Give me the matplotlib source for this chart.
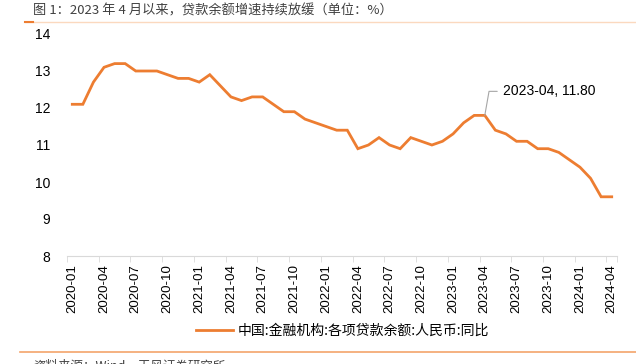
import matplotlib.pyplot as plt
from matplotlib.lines import Line2D

plt.rcParams['font.family'] = ['Liberation Sans', 'Noto Sans CJK SC', 'DejaVu Sans']

# 月份标签（2020-01 ~ 2024-04）
months = [f"{y}-{m:02d}" for y in range(2020, 2025) for m in range(1, 13)][:52]

# 各项贷款余额同比（%）
loan_yoy_2020 = [12.1, 12.1, 12.7, 13.1, 13.2, 13.2, 13.0, 13.0, 13.0, 12.9, 12.8, 12.8]
loan_yoy_2021 = [12.7, 12.9, 12.6, 12.3, 12.2, 12.3, 12.3, 12.1, 11.9, 11.9, 11.7, 11.6]
loan_yoy_2022 = [11.5, 11.4, 11.4, 10.9, 11.0, 11.2, 11.0, 10.9, 11.2, 11.1, 11.0, 11.1]
loan_yoy_2023 = [11.3, 11.6, 11.8, 11.8, 11.4, 11.3, 11.1, 11.1, 10.9, 10.9, 10.8, 10.6]
loan_yoy_2024 = [10.4, 10.1, 9.6, 9.6]
loan_yoy = loan_yoy_2020 + loan_yoy_2021 + loan_yoy_2022 + loan_yoy_2023 + loan_yoy_2024

yticks = [8, 9, 10, 11, 12, 13, 14]
title = "图 1：2023 年 4 月以来，贷款余额增速持续放缓（单位：%）"
legend_label = "中国:金融机构:各项贷款余额:人民币:同比"
source = "资料来源：Wind，天风证券研究所"
orange = "#ED7D31"

fig = plt.figure(figsize=(6.36, 3.64), dpi=100)
W, H = 636, 364
ax = fig.add_axes([67 / W, (H - 256) / H, 550 / W, 222 / H])

x = list(range(len(loan_yoy)))
ax.plot(x, loan_yoy, color=orange, lw=2.0, solid_joinstyle='miter')

ax.set_xlim(-0.5, len(loan_yoy) - 0.5)
ax.set_ylim(8, 14)
ax.set_yticks(yticks)
ax.set_yticklabels([str(v) for v in yticks], fontsize=10, color="#000000")
ax.tick_params(axis='y', length=0, pad=12)

ax.set_xticks(x[::3])
ax.set_xticklabels(months[::3], rotation=90, fontsize=9.5)
ax.set_xticks([v - 0.5 for v in x[::3]] + [len(loan_yoy) - 0.5], minor=True)
ax.tick_params(axis='x', which='major', length=0, pad=6)
ax.tick_params(axis='x', which='minor', length=4, color="#d9d9d9")

for s in ['top', 'right', 'left']:
    ax.spines[s].set_visible(False)
ax.spines['bottom'].set_color("#d9d9d9")

# 标注 2023-04
i = months.index("2023-04")
ax.annotate(f"2023-04, {loan_yoy[i]:.2f}", xy=(i, loan_yoy[i]), xytext=(i + 1.7, 12.45),
            fontsize=10, va='center', ha='left',
            arrowprops=dict(arrowstyle='-', color="#a6a6a6", lw=0.8,
                            connectionstyle="angle,angleA=0,angleB=80,rad=0", shrinkA=2, shrinkB=0))

# 图例
handle = Line2D([0], [0], color=orange, lw=2)
fig.legend([handle], [legend_label], loc='center', bbox_to_anchor=(343 / W, 1 - 331 / H),
           frameon=False, handlelength=2.6, handletextpad=0.4,
           prop={'family': ['Noto Sans CJK SC'], 'size': 10})

# 标题和分隔线
fig.text(33 / W, 1 - 11 / H, title, fontsize=9.5, color="#404040",
         va='center', ha='left', family=['Noto Sans CJK SC', 'DejaVu Sans'])
fig.add_artist(Line2D([25 / W, 1], [1 - 22 / H] * 2, color="#fbd9bf", lw=1))
fig.add_artist(Line2D([25 / W, 33 / W], [1 - 22 / H] * 2, color=orange, lw=1.5))
fig.add_artist(Line2D([20 / W, 1], [1 - 352 / H] * 2, color="#f4a46b", lw=1.2))
fig.text(33 / W, 1 - 366 / H, source, fontsize=9, color="#404040", va='center', ha='left',
         family=['Noto Sans CJK SC', 'DejaVu Sans'])

fig.savefig("out.png", dpi=100)
